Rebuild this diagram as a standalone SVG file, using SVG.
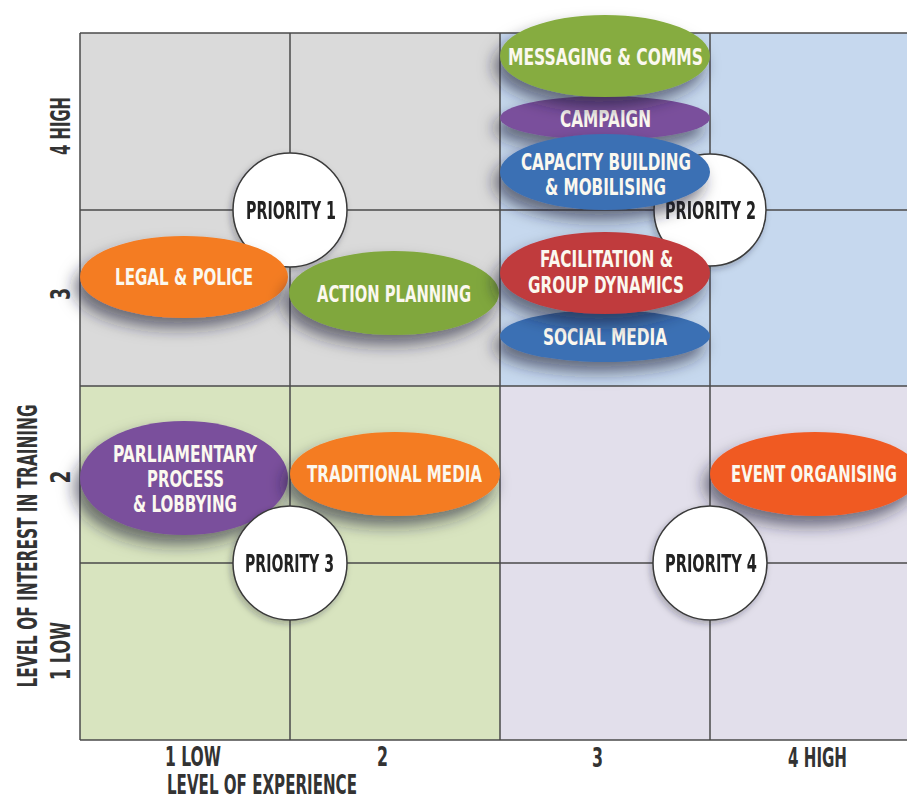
<svg xmlns="http://www.w3.org/2000/svg" width="907" height="796" viewBox="0 0 907 796">
<defs>
<filter id="sh" x="-30%" y="-40%" width="160%" height="200%">
<feDropShadow dx="-6" dy="10" stdDeviation="8" flood-color="#1d2430" flood-opacity="0.6"/>
</filter>
<filter id="shc" x="-30%" y="-30%" width="160%" height="160%">
<feDropShadow dx="-2" dy="3" stdDeviation="3" flood-color="#1d2430" flood-opacity="0.3"/>
</filter>
<style>
.grid{stroke:#4a4a4a;stroke-width:1.5;fill:none}
.lbl{font-family:"Liberation Sans Narrow","DejaVu Sans Condensed","Liberation Sans",sans-serif;font-weight:bold;font-size:23px;fill:#fbf8ef;text-anchor:middle}
.pri{font-family:"Liberation Sans Narrow","DejaVu Sans Condensed","Liberation Sans",sans-serif;font-weight:bold;font-size:24px;fill:#222;text-anchor:middle}
.ax{font-family:"Liberation Sans Narrow","DejaVu Sans Condensed","Liberation Sans",sans-serif;font-weight:bold;font-size:27px;fill:#333;text-anchor:middle}
.circ{fill:#fff;stroke:#3a3a3a;stroke-width:1.5}
.orange{fill:#f47b20}
.green{fill:#80a73d}
.purple{fill:#7a4f9c}
.blue{fill:#3b6fb4}
.red{fill:#c03a3c}
.evt{fill:#f05a24}
</style>
</defs>
<rect width="907" height="796" fill="#fff"/>
<g id="quadrants">
<rect x="80" y="33" width="420" height="353" fill="#dadada"/>
<rect x="500" y="33" width="407" height="353" fill="#c6d8ee"/>
<rect x="80" y="386" width="420" height="354" fill="#d8e4bf"/>
<rect x="500" y="386" width="407" height="354" fill="#e2dfeb"/>
</g>
<g id="gridlines" class="grid">
<line x1="80" y1="33" x2="907" y2="33"/>
<line x1="80" y1="210" x2="907" y2="210"/>
<line x1="80" y1="386" x2="907" y2="386"/>
<line x1="80" y1="563" x2="907" y2="563"/>
<line x1="80" y1="740" x2="907" y2="740"/>
<line x1="80" y1="33" x2="80" y2="740"/>
<line x1="290" y1="33" x2="290" y2="740"/>
<line x1="500" y1="33" x2="500" y2="740"/>
<line x1="710" y1="33" x2="710" y2="740"/>
</g>
<g id="axes">
<text class="ax" x="193" y="766" textLength="56" lengthAdjust="spacingAndGlyphs">1 LOW</text>
<text class="ax" x="382.5" y="766" textLength="11" lengthAdjust="spacingAndGlyphs">2</text>
<text class="ax" x="597.5" y="767" textLength="11" lengthAdjust="spacingAndGlyphs">3</text>
<text class="ax" x="817.5" y="767" textLength="59" lengthAdjust="spacingAndGlyphs">4 HIGH</text>
<text class="ax" x="262" y="794" font-size="25" textLength="190" lengthAdjust="spacingAndGlyphs">LEVEL OF EXPERIENCE</text>
<text class="ax" transform="translate(70,126) rotate(-90)" textLength="58" lengthAdjust="spacingAndGlyphs">4 HIGH</text>
<text class="ax" transform="translate(70,294) rotate(-90)" textLength="12" lengthAdjust="spacingAndGlyphs">3</text>
<text class="ax" transform="translate(70,477) rotate(-90)" textLength="13" lengthAdjust="spacingAndGlyphs">2</text>
<text class="ax" transform="translate(70,651) rotate(-90)" textLength="58" lengthAdjust="spacingAndGlyphs">1 LOW</text>
<text class="ax" transform="translate(37,546) rotate(-90)" textLength="283" lengthAdjust="spacingAndGlyphs">LEVEL OF INTEREST IN TRAINING</text>
</g>
<g id="connectors"></g>
<g id="priority1" filter="url(#shc)">
<circle class="circ" cx="290" cy="210" r="57"/>
<text class="pri" x="291" y="219" textLength="90" lengthAdjust="spacingAndGlyphs">PRIORITY 1</text>
</g>
<g id="priority2" filter="url(#shc)">
<circle class="circ" cx="710" cy="210" r="56"/>
<text class="pri" x="710.5" y="219" textLength="91" lengthAdjust="spacingAndGlyphs">PRIORITY 2</text>
</g>
<g id="legal-police">
<ellipse class="orange" cx="184" cy="277" rx="104" ry="41" filter="url(#sh)"/>
<text class="lbl" x="184" y="285" textLength="138" lengthAdjust="spacingAndGlyphs">LEGAL &amp; POLICE</text>
</g>
<g id="action-planning">
<ellipse class="green" cx="394" cy="293" rx="105" ry="42" filter="url(#sh)"/>
<text class="lbl" x="394" y="302" textLength="154" lengthAdjust="spacingAndGlyphs">ACTION PLANNING</text>
</g>
<g id="social-media">
<ellipse class="blue" cx="605" cy="336" rx="105" ry="26" filter="url(#sh)"/>
<text class="lbl" x="605" y="345" textLength="124" lengthAdjust="spacingAndGlyphs">SOCIAL MEDIA</text>
</g>
<g id="facilitation">
<ellipse class="red" cx="605" cy="273" rx="105" ry="41" filter="url(#sh)"/>
<text class="lbl" x="606.5" y="267" textLength="133" lengthAdjust="spacingAndGlyphs">FACILITATION &amp;</text>
<text class="lbl" x="606" y="293" textLength="156" lengthAdjust="spacingAndGlyphs">GROUP DYNAMICS</text>
</g>
<g id="campaign">
<ellipse class="purple" cx="605" cy="118" rx="105" ry="22" filter="url(#sh)"/>
<text class="lbl" x="605.5" y="127" textLength="91" lengthAdjust="spacingAndGlyphs">CAMPAIGN</text>
</g>
<g id="messaging-comms">
<ellipse class="green" cx="605" cy="56" rx="105" ry="41" filter="url(#sh)" style="fill:#86ac40"/>
<text class="lbl" x="605.5" y="65" textLength="195" lengthAdjust="spacingAndGlyphs">MESSAGING &amp; COMMS</text>
</g>
<g id="capacity-building">
<ellipse class="blue" cx="605" cy="172" rx="105" ry="38" filter="url(#sh)"/>
<text class="lbl" x="606" y="170" textLength="170" lengthAdjust="spacingAndGlyphs">CAPACITY BUILDING</text>
<text class="lbl" x="605.5" y="195" textLength="121" lengthAdjust="spacingAndGlyphs">&amp; MOBILISING</text>
</g>
<g id="parliamentary">
<ellipse class="purple" cx="184" cy="478" rx="104" ry="57" filter="url(#sh)"/>
<text class="lbl" x="185" y="462" textLength="144" lengthAdjust="spacingAndGlyphs">PARLIAMENTARY</text>
<text class="lbl" x="185.5" y="487" textLength="77" lengthAdjust="spacingAndGlyphs">PROCESS</text>
<text class="lbl" x="185" y="512" textLength="104" lengthAdjust="spacingAndGlyphs">&amp; LOBBYING</text>
</g>
<g id="traditional-media">
<ellipse class="orange" cx="395" cy="474" rx="105" ry="42" filter="url(#sh)"/>
<text class="lbl" x="394.5" y="482" textLength="175" lengthAdjust="spacingAndGlyphs">TRADITIONAL MEDIA</text>
</g>
<g id="event-organising">
<ellipse class="evt" cx="815" cy="474" rx="105" ry="42" filter="url(#sh)"/>
<text class="lbl" x="814" y="482" textLength="166" lengthAdjust="spacingAndGlyphs">EVENT ORGANISING</text>
</g>
<g id="priority3" filter="url(#shc)">
<circle class="circ" cx="290" cy="563" r="57"/>
<text class="pri" x="289.5" y="572" textLength="89" lengthAdjust="spacingAndGlyphs">PRIORITY 3</text>
</g>
<g id="priority4" filter="url(#shc)">
<circle class="circ" cx="710" cy="563" r="57"/>
<text class="pri" x="711" y="572" textLength="92" lengthAdjust="spacingAndGlyphs">PRIORITY 4</text>
</g>
</svg>
